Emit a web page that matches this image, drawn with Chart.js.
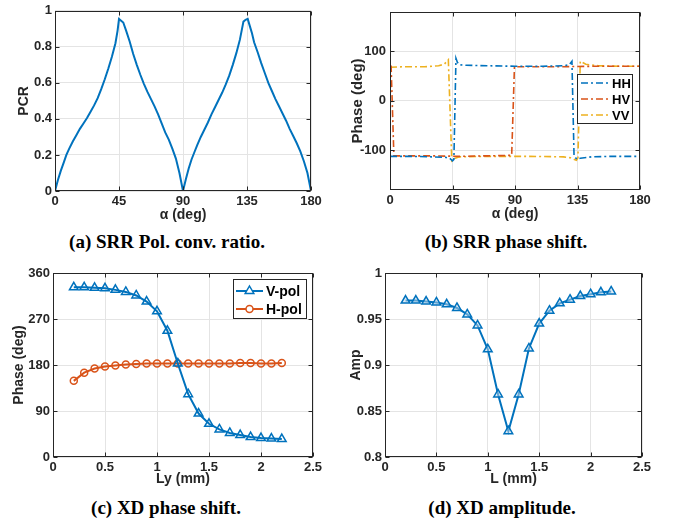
<!DOCTYPE html>
<html>
<head>
<meta charset="utf-8">
<script src="https://cdn.jsdelivr.net/npm/chart.js@4.4.1/dist/chart.umd.min.js"></script>
<style>
  body { margin: 0; background: #fff; width: 676px; height: 523px; position: relative; overflow: hidden; }
  canvas { position: absolute; }
  .cap { position: absolute; font-family: "Liberation Serif", serif; font-weight: bold; font-size: 19px;
         color: #000; transform: translate(-50%, -50%); white-space: nowrap; }
</style>
</head>
<body>
<canvas id="chartA" width="338" height="228" style="left:0;top:0"></canvas>
<canvas id="chartB" width="338" height="228" style="left:338px;top:0"></canvas>
<canvas id="chartC" width="338" height="232" style="left:0;top:258px"></canvas>
<canvas id="chartD" width="338" height="232" style="left:338px;top:258px"></canvas>
<div class="cap" style="left:167px;top:242px">(a) SRR Pol. conv. ratio.</div>
<div class="cap" style="left:506px;top:242px">(b) SRR phase shift.</div>
<div class="cap" style="left:166px;top:508px">(c) XD phase shift.</div>
<div class="cap" style="left:502px;top:508px">(d) XD amplitude.</div>
<script>
// (a) polarization conversion ratio
const alphaA = [0, 2, 4, 6, 8, 10, 12.5, 15, 17.5, 20, 22.5, 25, 27.5, 30, 32.5, 35, 37.5, 40, 42.5,
  44, 45, 46.5, 48, 50, 52.5, 55, 57.5, 60, 62.5, 65, 67.5, 70, 72.5, 75, 77.5, 80, 82.5, 85, 87.5, 90,
  92, 94, 96, 98, 100, 102.5, 105, 107.5, 110, 112.5, 115, 117.5, 120, 122.5, 125, 127.5, 130, 132.5,
  134, 135.5, 137, 138.5, 140, 142.5, 145, 147.5, 150, 152.5, 155, 157.5, 160, 162.5, 165, 167.5, 170,
  172.5, 175, 177.5, 180];
const pcrA = [0, 0.06, 0.11, 0.155, 0.2, 0.235, 0.275, 0.31, 0.345, 0.375, 0.405, 0.44, 0.475, 0.515, 0.565, 0.62, 0.68, 0.745, 0.82,
  0.89, 0.955, 0.945, 0.935, 0.89, 0.83, 0.76, 0.7, 0.645, 0.595, 0.55, 0.51, 0.47, 0.425, 0.375, 0.325, 0.285, 0.235, 0.18, 0.1, 0,
  0.065, 0.125, 0.175, 0.215, 0.255, 0.3, 0.34, 0.38, 0.425, 0.465, 0.505, 0.545, 0.59, 0.64, 0.7, 0.765, 0.84, 0.94,
  0.95, 0.955, 0.915, 0.875, 0.825, 0.77, 0.71, 0.655, 0.6, 0.555, 0.51, 0.47, 0.43, 0.39, 0.345, 0.305, 0.265,
  0.22, 0.165, 0.1, 0];
const xTicksA = [0, 45, 90, 135, 180];
const yTicksA = [0, 0.2, 0.4, 0.6, 0.8, 1];

// (b) phase shift
const hhAlpha = [0, 15, 30, 40, 43, 45, 46, 47.5, 48.5, 50, 55, 70, 90, 110, 125, 129, 131, 132.5, 134.4, 137, 145, 160, 180];
const hhPhase = [-112, -112, -113, -114, -116, -121, -118, 86, 78, 73, 72, 71, 70, 70, 71, 73, 80, -110, -118, -116, -113, -112, -112];
const hvAlpha = [0, 0.8, 2.8, 15, 30, 50, 70, 87.6, 89.6, 100, 120, 150, 180];
const hvPhase = [70, 70, -111, -111, -111, -112, -111, -110, 69, 69, 69, 70, 70];
const vvAlpha = [0, 10, 25, 35, 39, 42, 44.5, 46, 50, 70, 100, 125, 130, 134.2, 135.3, 137, 141, 150, 165, 180];
const vvPhase = [68, 69, 69, 71, 74, 83, -121, -117, -113, -112, -112, -113, -115, -120, -115, 80, 74, 71, 70, 70];
const xTicksB = [0, 45, 90, 135, 180];
const yTicksB = [-100, 0, 100];

// (c) XD phase shift and (d) XD amplitude
const lengths = [0.2, 0.3, 0.4, 0.5, 0.6, 0.7, 0.8, 0.9, 1.0, 1.1, 1.2, 1.3, 1.4, 1.5, 1.6, 1.7, 1.8, 1.9, 2.0, 2.1, 2.2];
const vPol = [332, 332, 331, 330, 327, 323, 316, 304, 285, 247, 183, 123, 85, 65, 54, 47, 43, 39, 37, 36, 35];
const hPol = [149, 165, 173, 177, 179, 181, 182, 183, 183, 183, 183, 183, 183, 183, 183, 183, 184, 184, 183, 183, 184];
const ampD = [0.970, 0.970, 0.969, 0.968, 0.966, 0.962, 0.955, 0.943, 0.917, 0.868, 0.828, 0.868, 0.918, 0.945, 0.959, 0.967, 0.971, 0.975, 0.977, 0.979, 0.980];
const xTicksCD = [0, 0.5, 1, 1.5, 2, 2.5];
const yTicksC = [0, 90, 180, 270, 360];
const yTicksD = [0.8, 0.85, 0.9, 0.95, 1];

const BLUE = "#0072BD", ORANGE = "#D95319", YELLOW = "#EDB120", INK = "#262626";
const SANS = "'Liberation Sans', Arial, sans-serif";

function pairs(xs, ys) {
  return xs.map((x, i) => ({ x: x, y: ys[i] }));
}

function axis(o) {
  return {
    type: "linear",
    min: o.min,
    max: o.max,
    afterBuildTicks: (s) => { s.ticks = o.ticks.map((v) => ({ value: v })); },
    afterFit: (s) => { if (s.isHorizontal()) s.height = o.size; else s.width = o.size; },
    grid: { color: "#e4e4e4", drawTicks: false, lineWidth: 1 },
    border: { display: false },
    ticks: {
      color: INK,
      padding: o.pad,
      font: { family: SANS, weight: "bold", size: o.tickSize },
      callback: (v) => String(+v.toFixed(4)),
    },
    title: {
      display: true,
      text: o.title,
      color: INK,
      font: { family: SANS, weight: "bold", size: o.titleSize },
      padding: o.titlePad,
    },
  };
}

// box round the plot area with inward tick marks, like matlab
const framePlugin = {
  id: "frame",
  afterDraw(chart) {
    const { ctx, chartArea: a, scales } = chart;
    const L = Math.round(a.left) + 0.5, R = Math.round(a.right) - 0.5;
    const T = Math.round(a.top) + 0.5, B = Math.round(a.bottom) - 0.5;
    ctx.save();
    ctx.strokeStyle = INK;
    ctx.lineWidth = 1;
    ctx.beginPath();
    scales.x.ticks.forEach((t) => {
      const px = Math.round(scales.x.getPixelForValue(t.value)) + 0.5;
      ctx.moveTo(px, B); ctx.lineTo(px, B - 4);
      ctx.moveTo(px, T); ctx.lineTo(px, T + 4);
    });
    scales.y.ticks.forEach((t) => {
      const py = Math.round(scales.y.getPixelForValue(t.value)) + 0.5;
      ctx.moveTo(L, py); ctx.lineTo(L + 4, py);
      ctx.moveTo(R, py); ctx.lineTo(R - 4, py);
    });
    ctx.stroke();
    ctx.strokeRect(L, T, R - L, B - T);
    ctx.restore();
  },
};

function drawMarker(ctx, style, x, y, r, color) {
  ctx.save();
  ctx.strokeStyle = color;
  ctx.lineWidth = 1.5;
  ctx.setLineDash([]);
  ctx.beginPath();
  if (style === "triangle") {
    ctx.moveTo(x, y - r);
    ctx.lineTo(x + r * 0.866, y + r * 0.5);
    ctx.lineTo(x - r * 0.866, y + r * 0.5);
    ctx.closePath();
  } else {
    ctx.arc(x, y, r, 0, Math.PI * 2);
  }
  ctx.fillStyle = "#fff";
  ctx.fill();
  ctx.stroke();
  ctx.restore();
}

// legend box placed inside the axes
const boxLegend = {
  id: "boxLegend",
  afterDraw(chart, args, o) {
    if (!o || !o.box) return;
    const ctx = chart.ctx;
    const [bx, by, bw, bh] = o.box;
    ctx.save();
    ctx.fillStyle = "#fff";
    ctx.fillRect(bx, by, bw, bh);
    ctx.strokeStyle = INK;
    ctx.lineWidth = 1;
    ctx.strokeRect(bx + 0.5, by + 0.5, bw, bh);
    chart.data.datasets.forEach((ds, i) => {
      const y = o.rows[i];
      ctx.strokeStyle = ds.borderColor;
      ctx.lineWidth = ds.borderWidth;
      ctx.setLineDash(ds.borderDash || []);
      ctx.beginPath();
      ctx.moveTo(o.line[0], y);
      ctx.lineTo(o.line[1], y);
      ctx.stroke();
      ctx.setLineDash([]);
      if (ds.pointRadius > 0) {
        drawMarker(ctx, ds.pointStyle, (o.line[0] + o.line[1]) / 2, y, ds.pointRadius, ds.borderColor);
      }
      ctx.fillStyle = "#000";
      ctx.font = "bold " + o.size + "px " + SANS;
      ctx.textBaseline = "middle";
      ctx.textAlign = "left";
      ctx.fillText(ds.label, o.textX, y + 1);
    });
    ctx.restore();
  },
};

function makeChart(id, datasets, xs, ys, padding, legend) {
  return new Chart(document.getElementById(id), {
    type: "line",
    data: { datasets: datasets },
    options: {
      responsive: false,
      animation: false,
      layout: { padding: padding },
      plugins: { legend: { display: false }, tooltip: { enabled: false }, boxLegend: legend || {} },
      scales: { x: axis(xs), y: axis(ys) },
    },
    plugins: [framePlugin, boxLegend],
  });
}

makeChart("chartA",
  [{ label: "PCR", data: pairs(alphaA, pcrA), borderColor: BLUE, borderWidth: 2, pointRadius: 0, tension: 0 }],
  { min: 0, max: 180, ticks: xTicksA, size: 37, pad: 3, tickSize: 13, title: "α (deg)", titleSize: 14, titlePad: { top: 0, bottom: 4 } },
  { min: 0, max: 1, ticks: yTicksA, size: 55, pad: 3, tickSize: 13, title: "PCR", titleSize: 14, titlePad: { top: 16, bottom: 0 } },
  { left: 0, right: 27, top: 7, bottom: 0 });

const dashDot = [7, 3, 2, 3];
makeChart("chartB",
  [
    { label: "HH", data: pairs(hhAlpha, hhPhase), borderColor: BLUE, borderWidth: 1.6, borderDash: dashDot, pointRadius: 0, tension: 0 },
    { label: "HV", data: pairs(hvAlpha, hvPhase), borderColor: ORANGE, borderWidth: 1.6, borderDash: dashDot, pointRadius: 0, tension: 0 },
    { label: "VV", data: pairs(vvAlpha, vvPhase), borderColor: YELLOW, borderWidth: 1.6, borderDash: dashDot, pointRadius: 0, tension: 0 },
  ],
  { min: 0, max: 180, ticks: xTicksB, size: 38, pad: 3, tickSize: 13, title: "α (deg)", titleSize: 14, titlePad: { top: 0, bottom: 5 } },
  { min: -180, max: 180, ticks: yTicksB, size: 52, pad: 4, tickSize: 13, title: "Phase (deg)", titleSize: 15, titlePad: { top: 11, bottom: 0 } },
  { left: 0, right: 36, top: 6, bottom: 0 },
  { box: [239, 74, 55, 49], rows: [83, 99, 115], line: [243, 271], textX: 274, size: 13 });

makeChart("chartC",
  [
    { label: "V-pol", data: pairs(lengths, vPol), borderColor: BLUE, borderWidth: 2, pointStyle: "triangle", pointRadius: 5,
      pointBorderWidth: 1.5, pointBackgroundColor: "rgba(255,255,255,0)", pointBorderColor: BLUE, tension: 0 },
    { label: "H-pol", data: pairs(lengths, hPol), borderColor: ORANGE, borderWidth: 2, pointStyle: "circle", pointRadius: 3.5,
      pointBorderWidth: 1.5, pointBackgroundColor: "rgba(255,255,255,0)", pointBorderColor: ORANGE, tension: 0 },
  ],
  { min: 0, max: 2.5, ticks: xTicksCD, size: 33, pad: 3, tickSize: 13, title: "Ly (mm)", titleSize: 14, titlePad: { top: 0, bottom: 2 } },
  { min: 0, max: 360, ticks: yTicksC, size: 53, pad: 3, tickSize: 13, title: "Phase (deg)", titleSize: 14, titlePad: { top: 11, bottom: 0 } },
  { left: 0, right: 25, top: 15, bottom: 0 },
  { box: [233, 21, 73, 39], rows: [33, 51], line: [236, 263], textX: 266, size: 14 });

makeChart("chartD",
  [{ label: "Amp", data: pairs(lengths, ampD), borderColor: BLUE, borderWidth: 2, pointStyle: "triangle", pointRadius: 5,
     pointBorderWidth: 1.5, pointBackgroundColor: "rgba(190,215,235,0.5)", pointBorderColor: BLUE, tension: 0 }],
  { min: 0, max: 2.5, ticks: xTicksCD, size: 33, pad: 3, tickSize: 13, title: "L (mm)", titleSize: 14, titlePad: { top: 0, bottom: 2 } },
  { min: 0.8, max: 1, ticks: yTicksD, size: 47, pad: 3, tickSize: 13, title: "Amp", titleSize: 14, titlePad: { top: 10, bottom: 0 } },
  { left: 0, right: 34, top: 15, bottom: 0 });
</script>
</body>
</html>
